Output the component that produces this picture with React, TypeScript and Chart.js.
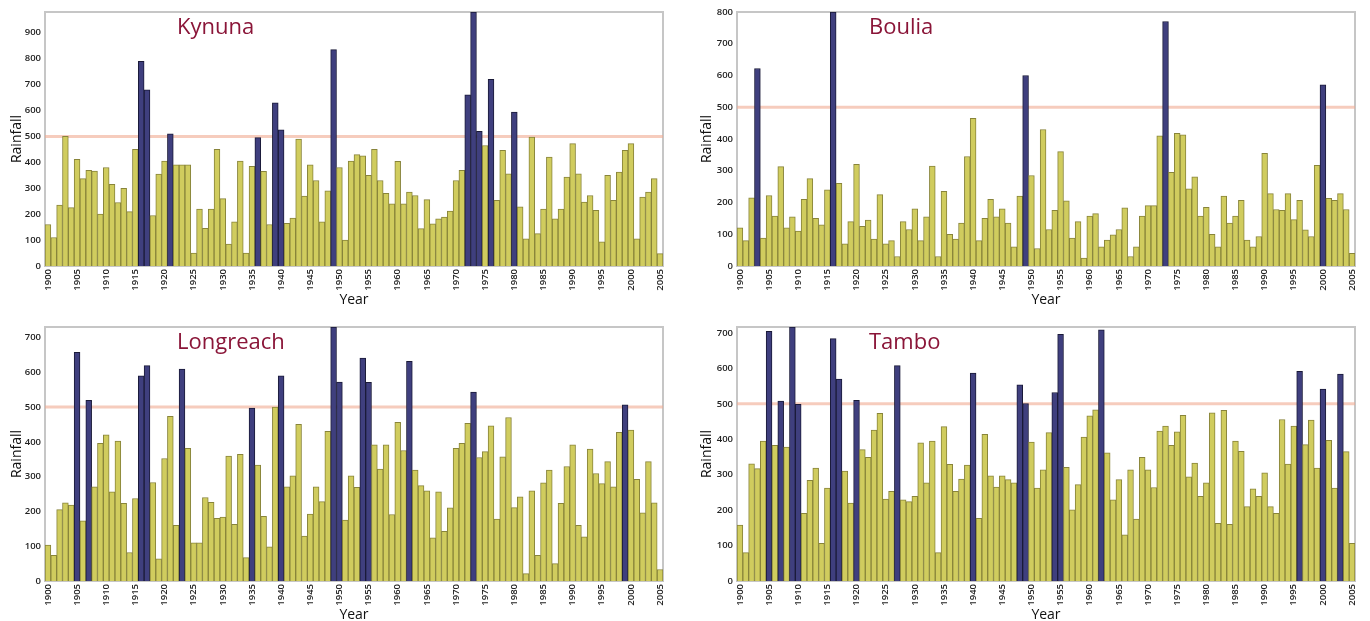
import React, { useEffect, useRef } from "react";
import { Chart, registerables } from "chart.js";
Chart.register(...registerables);

const YEARS = Array.from({ length: 106 }, (_, i) => String(1900 + i));

const KYNUNA = [
  160, 110, 235, 500, 225, 412, 337, 369, 366, 200,
  380, 315, 245, 300, 210, 450, 790, 680, 195, 355,
  405, 510, 390, 390, 390, 50, 220, 145, 220, 450,
  260, 85, 170, 405, 50, 385, 495, 365, 160, 630,
  525, 165, 185, 490, 270, 390, 330, 170, 290, 835,
  380, 100, 405, 430, 425, 350, 450, 330, 280, 240,
  404, 240, 285, 272, 144, 256, 163, 182, 189, 212,
  330, 369, 660, 980, 520, 465, 720, 253, 446, 356,
  594, 228, 105, 497, 125, 220, 420, 182, 220, 343,
  472, 356, 247, 272, 215, 93, 350, 253, 362, 446,
  472, 105, 266, 285, 337, 48,
];
const BOULIA = [
  120, 80, 215, 622, 88, 222, 157, 313, 120, 155,
  110, 210, 275, 150, 130, 240, 800, 260, 70, 140,
  320, 125, 145, 85, 225, 70, 80, 30, 140, 115,
  180, 80, 155, 315, 30, 235, 100, 85, 135, 345,
  465, 80, 150, 210, 155, 180, 135, 60, 220, 600,
  285, 55, 430, 115, 175, 360, 205, 88, 140, 25,
  157, 165, 60, 82, 98, 115, 183, 30, 60, 157,
  190, 190, 410, 770, 295, 418, 413, 243, 281, 157,
  185, 100, 60, 220, 135, 157, 207, 82, 60, 93,
  355, 228, 178, 175, 228, 146, 207, 114, 93, 317,
  571, 213, 207, 228, 178, 40,
];
const LONGREACH = [
  103, 74, 205, 225, 218, 657, 173, 519, 271, 396,
  420, 256, 402, 223, 82, 237, 590, 619, 283, 64,
  352, 473, 160, 609, 381, 110, 110, 240, 226, 180,
  184, 359, 163, 364, 67, 497, 333, 186, 98, 500,
  590, 271, 302, 450, 129, 192, 271, 228, 430, 730,
  572, 175, 302, 269, 641, 571, 391, 322, 391, 191,
  456, 375, 631, 319, 274, 259, 124, 256, 143, 210,
  381, 396, 453, 543, 355, 372, 446, 178, 357, 470,
  211, 242, 21, 259, 74, 282, 319, 50, 223, 329,
  391, 160, 127, 379, 309, 280, 343, 271, 427, 506,
  434, 292, 196, 343, 225, 33,
];
const TAMBO = [
  158, 80, 331, 317, 395, 705, 383, 508, 378, 717,
  499, 191, 284, 319, 106, 262, 684, 570, 310, 220,
  510, 371, 349, 426, 473, 231, 253, 608, 229, 224,
  239, 390, 277, 395, 80, 436, 329, 253, 288, 327,
  587, 177, 414, 297, 265, 297, 286, 277, 554, 501,
  392, 262, 314, 419, 532, 696, 321, 201, 272, 406,
  466, 483, 709, 362, 229, 286, 130, 314, 175, 349,
  314, 264, 423, 437, 383, 421, 468, 294, 333, 239,
  277, 475, 163, 482, 160, 395, 366, 210, 260, 239,
  305, 210, 191, 456, 330, 437, 592, 385, 454, 319,
  542, 397, 262, 584, 365, 106,
];

const KYNUNA_WET = [1916, 1917, 1921, 1936, 1939, 1940, 1949, 1972, 1973, 1974, 1976, 1980];
const BOULIA_WET = [1903, 1916, 1949, 1973, 2000];
const LONGREACH_WET = [1905, 1907, 1916, 1917, 1923, 1935, 1940, 1949, 1950, 1954, 1955, 1962, 1973, 1999];
const TAMBO_WET = [1905, 1907, 1909, 1910, 1916, 1917, 1920, 1927, 1940, 1948, 1949, 1954, 1955, 1962, 1996, 2000, 2003];

const THRESHOLD = 500;
const Y_STEP = 100;

const W = 685;
const H = 310;
const PLOT_TOP = 12;
const PLOT_BOTTOM = 266;

const PANELS = [
  { name: "Kynuna", values: KYNUNA, wet: KYNUNA_WET, max: 980, left: 0, top: 0, axisW: 45, right: 663, titlePad: 8.6 },
  { name: "Boulia", values: BOULIA, wet: BOULIA_WET, max: 800, left: 685, top: 0, axisW: 52, right: 670, titlePad: 14 },
  { name: "Longreach", values: LONGREACH, wet: LONGREACH_WET, max: 730, left: 0, top: 315, axisW: 45, right: 663, titlePad: 8.6 },
  { name: "Tambo", values: TAMBO, wet: TAMBO_WET, max: 717, left: 685, top: 315, axisW: 52, right: 670, titlePad: 14 },
];

const FONT = "'Open Sans', 'Noto Sans', sans-serif";

function Panel({ p }: { p: any }) {
  const ref = useRef<HTMLCanvasElement>(null);
  useEffect(() => {
    if (!ref.current) return;
    const wetSet = new Set(p.wet.map((y: number) => String(y)));
    const bg = YEARS.map((y) => (wetSet.has(y) ? "#3f3f7e" : "#d0cc5e"));
    const bd = YEARS.map((y) => (wetSet.has(y) ? "#1a1a38" : "#88843a"));
    const decor = {
      id: "decor",
      beforeDatasetsDraw(chart: any) {
        const { ctx, chartArea: a, scales } = chart;
        ctx.save();
        ctx.strokeStyle = "#c6c6c6";
        ctx.lineWidth = 2;
        ctx.strokeRect(a.left, a.top, a.right - a.left, a.bottom - a.top);
        const y = scales.y.getPixelForValue(THRESHOLD);
        ctx.strokeStyle = "rgba(240,170,145,0.6)";
        ctx.lineWidth = 3;
        ctx.beginPath();
        ctx.moveTo(a.left, y);
        ctx.lineTo(a.right, y);
        ctx.stroke();
        ctx.restore();
      },
      afterDatasetsDraw(chart: any) {
        const { ctx, chartArea: a } = chart;
        ctx.save();
        ctx.fillStyle = "#8a1538";
        ctx.font = `400 22px ${FONT}`;
        ctx.textAlign = "left";
        ctx.textBaseline = "middle";
        ctx.fillText(p.name, a.left + 132, a.top + 16);
        ctx.restore();
      },
    };
    const chart = new Chart(ref.current, {
      type: "bar",
      data: {
        labels: YEARS,
        datasets: [
          {
            data: p.values,
            backgroundColor: bg,
            borderColor: bd,
            borderWidth: 1,
            barPercentage: 1,
            categoryPercentage: 1,
          },
        ],
      },
      options: {
        animation: false,
        responsive: false,
        devicePixelRatio: 1,
        layout: { padding: { top: PLOT_TOP, right: W - p.right, left: 0, bottom: 0 } },
        plugins: { legend: { display: false }, tooltip: { enabled: false }, title: { display: false } },
        scales: {
          x: {
            offset: true,
            grid: { display: false, drawTicks: false, tickLength: 0 },
            border: { display: false },
            ticks: {
              autoSkip: false,
              minRotation: 90,
              maxRotation: 90,
              padding: 3,
              color: "#222",
              font: { family: FONT, size: 9.5, weight: "600" },
              callback: (_v: any, i: number) => ((1900 + i) % 5 === 0 ? YEARS[i] : null),
            },
            title: {
              display: true,
              text: "Year",
              color: "#111",
              font: { family: FONT, size: 14 },
              padding: { top: 0, bottom: 1.6 },
            },
            afterFit: (s: any) => {
              s.height = H - PLOT_BOTTOM;
            },
          },
          y: {
            min: 0,
            max: p.max,
            grid: { display: false, drawTicks: false, tickLength: 0 },
            border: { display: false },
            afterBuildTicks: (s: any) => {
              const t: any[] = [];
              for (let v = 0; v <= p.max; v += Y_STEP) t.push({ value: v });
              s.ticks = t;
            },
            ticks: {
              stepSize: Y_STEP,
              padding: 4,
              color: "#222",
              font: { family: FONT, size: 9.5, weight: "600" },
            },
            title: {
              display: true,
              text: "Rainfall",
              color: "#111",
              font: { family: FONT, size: 14 },
              padding: { top: p.titlePad, bottom: 0 },
            },
            afterFit: (s: any) => {
              s.width = p.axisW;
            },
          },
        },
      },
      plugins: [decor],
    } as any);
    return () => chart.destroy();
  }, [p]);
  return (
    <canvas
      ref={ref}
      width={W}
      height={H}
      style={{ position: "absolute", left: p.left, top: p.top, width: W, height: H }}
    />
  );
}

export default function App() {
  return (
    <div
      style={{
        position: "absolute",
        left: 0,
        top: 0,
        width: 1370,
        height: 621,
        overflow: "hidden",
        background: "#fff",
      }}
    >
      {PANELS.map((p) => (
        <Panel key={p.name} p={p} />
      ))}
    </div>
  );
}
